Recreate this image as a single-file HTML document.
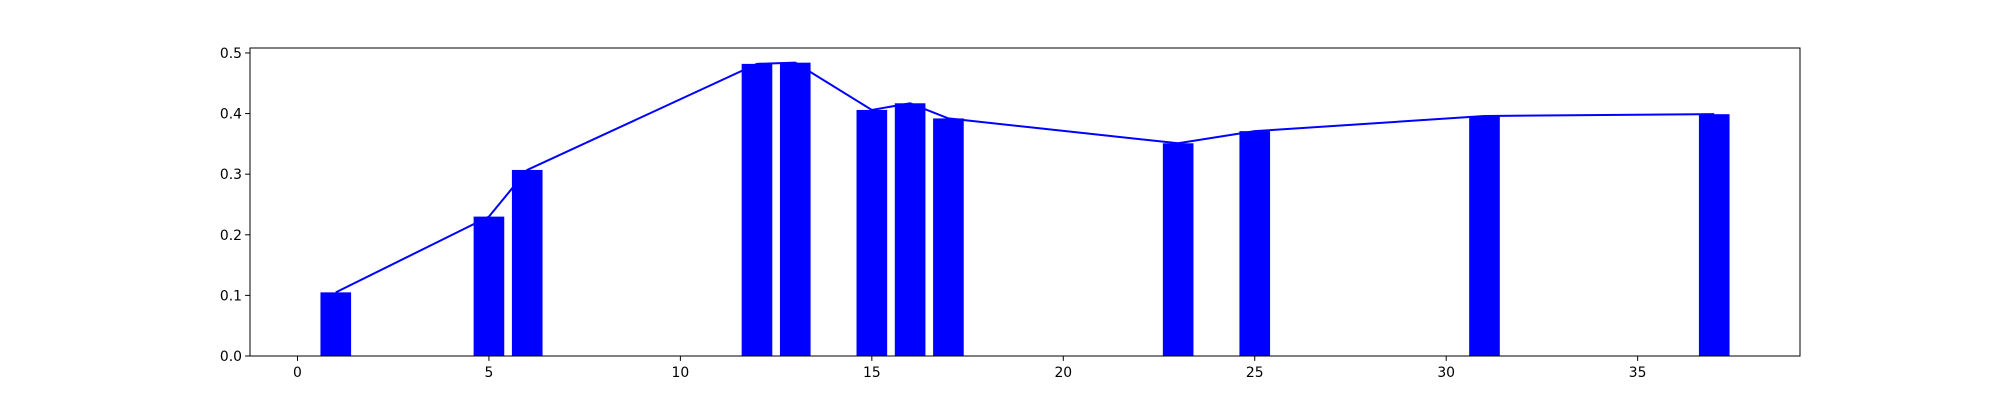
<!DOCTYPE html>
<html><head><meta charset="utf-8"><style>
html,body{margin:0;padding:0;background:#fff;}
svg{display:block;font-family:"DejaVu Sans","Liberation Sans",sans-serif;}
</style></head><body>
<svg id="chart" width="2000" height="400"></svg>
<script>
const categories = [1, 5, 6, 12, 13, 15, 16, 17, 23, 25, 31, 37];
const values = [0.105, 0.23, 0.307, 0.482, 0.484, 0.406, 0.417, 0.392, 0.351, 0.371, 0.396, 0.399];
const xTicks = [0, 5, 10, 15, 20, 25, 30, 35];
const yTicks = [0.0, 0.1, 0.2, 0.3, 0.4, 0.5];

const NS = "http://www.w3.org/2000/svg";
const svg = document.getElementById('chart');
const L = 250, R = 1800, T = 48, B = 356;
const barW = 0.8;
const xmin = Math.min(...categories) - barW / 2, xmax = Math.max(...categories) + barW / 2;
const xpad = (xmax - xmin) * 0.05;
const X0 = xmin - xpad, X1 = xmax + xpad;
const Y1 = Math.max(...values) * 1.05;
const xs = v => L + (v - X0) / (X1 - X0) * (R - L);
const ys = v => B - v / Y1 * (B - T);
function mk(tag, attrs) { const e = document.createElementNS(NS, tag); for (const k in attrs) e.setAttribute(k, attrs[k]); svg.appendChild(e); return e; }

categories.forEach((c, i) => {
  const r = mk('rect', {x: xs(c - barW / 2), y: ys(values[i]), width: xs(c + barW / 2) - xs(c - barW / 2), height: B - ys(values[i]), fill: '#0000ff'});
  
  
});
const line = mk('polyline', {points: categories.map((c, i) => xs(c) + ',' + ys(values[i])).join(' '), fill: 'none', stroke: '#0000ff', 'stroke-width': 2});



const frame = mk('rect', {x: L, y: T, width: R - L, height: B - T, fill: 'none', stroke: '#000', 'stroke-width': 1});



xTicks.forEach(t => {
  const x = xs(t);
  const tk = mk('line', {x1: x, x2: x, y1: B, y2: B + 4.9, stroke: '#000', 'stroke-width': 1});
  
  
  const tx = mk('text', {x: x, y: B + 21, 'text-anchor': 'middle', 'font-size': 13.9, fill: '#000'});
  tx.textContent = t;
  
  
});
yTicks.forEach(t => {
  const y = ys(t);
  const tk = mk('line', {x1: L - 4.9, x2: L, y1: y, y2: y, stroke: '#000', 'stroke-width': 1});
  
  
  const tx = mk('text', {x: L - 8, y: y + 5, 'text-anchor': 'end', 'font-size': 13.9, fill: '#000'});
  tx.textContent = t.toFixed(1);
  
  
});
</script>
</body></html>
